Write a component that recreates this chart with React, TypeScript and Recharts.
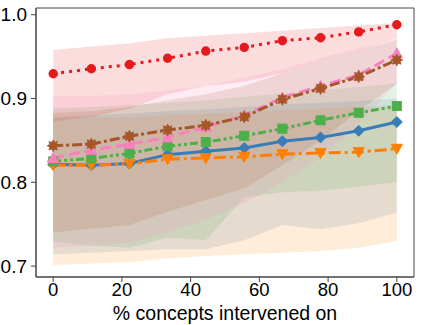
import React from 'react';
import { ComposedChart, Line, Area, XAxis, YAxis, ReferenceArea } from 'recharts';

const xs = [0, 11.1, 22.2, 33.3, 44.4, 55.6, 66.7, 77.8, 88.9, 100];
const xTicks = [0, 20, 40, 60, 80, 100];
const yTicks = [0.7, 0.8, 0.9, 1.0];
const xLabel = '% concepts intervened on';

const blueMean = [0.8215, 0.8205, 0.8225, 0.833, 0.837, 0.841, 0.849, 0.8536, 0.8615, 0.872];
const blueLow = [0.714, 0.716, 0.718, 0.72, 0.72, 0.731, 0.749, 0.744, 0.751, 0.764];
const blueHigh = [0.878, 0.88, 0.882, 0.885, 0.887, 0.89, 0.893, 0.895, 0.897, 0.9];

const orangeMean = [0.8205, 0.8205, 0.822, 0.8275, 0.829, 0.8305, 0.8335, 0.835, 0.836, 0.84];
const orangeLow = [0.701, 0.703, 0.705, 0.709, 0.712, 0.714, 0.716, 0.718, 0.722, 0.73];
const orangeHigh = [0.876, 0.877, 0.878, 0.88, 0.882, 0.884, 0.886, 0.888, 0.89, 0.892];

const greenMean = [0.825, 0.8285, 0.8345, 0.843, 0.848, 0.8555, 0.864, 0.874, 0.883, 0.891];
const greenLow = [0.729, 0.725, 0.722, 0.734, 0.731, 0.782, 0.788, 0.79, 0.795, 0.8];
const greenHigh = [0.8885, 0.89, 0.892, 0.895, 0.898, 0.902, 0.906, 0.91, 0.914, 0.918];

const redMean = [0.9295, 0.9355, 0.9405, 0.948, 0.9566, 0.961, 0.969, 0.9725, 0.9795, 0.988];
const redLow = [0.873, 0.878, 0.888, 0.905, 0.915, 0.92, 0.93, 0.945, 0.958, 0.972];
const redHigh = [0.958, 0.962, 0.966, 0.972, 0.975, 0.978, 0.981, 0.984, 0.987, 0.99];

const pinkMean = [0.829, 0.8385, 0.8456, 0.8536, 0.866, 0.88, 0.901, 0.915, 0.928, 0.954];
const pinkLow = [0.722, 0.724, 0.728, 0.74, 0.755, 0.775, 0.8, 0.83, 0.87, 0.918];
const pinkHigh = [0.9026, 0.903, 0.905, 0.91, 0.915, 0.925, 0.935, 0.948, 0.96, 0.972];

const brownMean = [0.8436, 0.8456, 0.855, 0.8623, 0.868, 0.878, 0.899, 0.912, 0.926, 0.946];
const brownLow = [0.74, 0.745, 0.749, 0.765, 0.779, 0.793, 0.82, 0.85, 0.885, 0.918];
const brownHigh = [0.8826, 0.885, 0.89, 0.898, 0.905, 0.915, 0.93, 0.945, 0.958, 0.97];

const C = {
  blue: '#377eb8',
  orange: '#ff7f00',
  green: '#4daf4a',
  red: '#e41a1c',
  pink: '#f781bf',
  brown: '#a65628',
};

const data = xs.map((x, i) => ({
  x,
  blue: blueMean[i], blueBand: [blueLow[i], blueHigh[i]],
  orange: orangeMean[i], orangeBand: [orangeLow[i], orangeHigh[i]],
  green: greenMean[i], greenBand: [greenLow[i], greenHigh[i]],
  red: redMean[i], redBand: [redLow[i], redHigh[i]],
  pink: pinkMean[i], pinkBand: [pinkLow[i], pinkHigh[i]],
  brown: brownMean[i], brownBand: [brownLow[i], brownHigh[i]],
}));

const W = 423;
const H = 325;
const Y_MIN = 0.687;
const Y_MAX = 1.008;
const FONT = '"Liberation Sans", Arial, sans-serif';

const diamond = (p: any) => {
  const { cx, cy, key } = p;
  const s = 5.5;
  return <polygon key={key} points={`${cx},${cy - s} ${cx + s},${cy} ${cx},${cy + s} ${cx - s},${cy}`} fill={C.blue} stroke={C.blue} strokeWidth={1} />;
};
const triDown = (p: any) => {
  const { cx, cy, key } = p;
  return <polygon key={key} points={`${cx - 5.5},${cy - 4.5} ${cx + 5.5},${cy - 4.5} ${cx},${cy + 5.5}`} fill={C.orange} stroke={C.orange} strokeWidth={1} />;
};
const square = (p: any) => {
  const { cx, cy, key } = p;
  return <rect key={key} x={cx - 4.5} y={cy - 4.5} width={9} height={9} fill={C.green} stroke={C.green} strokeWidth={1} />;
};
const circle = (p: any) => {
  const { cx, cy, key } = p;
  return <circle key={key} cx={cx} cy={cy} r={4.7} fill={C.red} />;
};
const triUp = (p: any) => {
  const { cx, cy, key } = p;
  return <polygon key={key} points={`${cx - 5.5},${cy + 4.5} ${cx + 5.5},${cy + 4.5} ${cx},${cy - 5.5}`} fill={C.pink} stroke={C.pink} strokeWidth={1} />;
};
const star = (p: any) => {
  const { cx, cy, key } = p;
  const pts: string[] = [];
  for (let k = 0; k < 16; k++) {
    const a = (Math.PI / 8) * k;
    const r = k % 2 === 0 ? 6 : 3.6;
    pts.push(`${cx + r * Math.cos(a)},${cy + r * Math.sin(a)}`);
  }
  return <polygon key={key} points={pts.join(' ')} fill={C.brown} stroke={C.brown} strokeWidth={0.8} />;
};

const bandProps = { type: 'linear' as const, stroke: 'none', fillOpacity: 0.15, isAnimationActive: false, dot: false, activeDot: false };
const lineProps = { type: 'linear' as const, strokeWidth: 3, isAnimationActive: false, activeDot: false };

export default function App() {
  return (
    <div style={{ position: 'absolute', left: 0, top: 0, width: W, height: H, background: '#fff' }}>
      <ComposedChart width={W} height={H} data={data} margin={{ top: 8, right: 9, bottom: 0, left: 0 }}>
        <XAxis
          dataKey="x"
          type="number"
          domain={[-5, 105]}
          ticks={xTicks}
          allowDataOverflow
          height={48}
          tickSize={5}
          tickMargin={1}
          stroke="#444"
          tick={{ fill: '#000', fontSize: 18.5, fontFamily: FONT }}
          label={{ value: xLabel, position: 'insideBottom', offset: 5, fill: '#000', fontSize: 19.5, fontFamily: FONT }}
        />
        <YAxis
          type="number"
          domain={[Y_MIN, Y_MAX]}
          ticks={yTicks}
          allowDataOverflow
          width={36}
          tickSize={5}
          tickMargin={4}
          stroke="#444"
          tickFormatter={(v: number) => v.toFixed(1)}
          tick={{ fill: '#000', fontSize: 19, fontFamily: FONT }}
        />
        <Area dataKey="blueBand" fill={C.blue} {...bandProps} />
        <Area dataKey="orangeBand" fill={C.orange} {...bandProps} />
        <Area dataKey="greenBand" fill={C.green} {...bandProps} />
        <Area dataKey="redBand" fill={C.red} {...bandProps} />
        <Area dataKey="pinkBand" fill={C.pink} {...bandProps} />
        <Area dataKey="brownBand" fill={C.brown} {...bandProps} />
        <Line dataKey="blue" stroke={C.blue} dot={diamond} {...lineProps} />
        <Line dataKey="orange" stroke={C.orange} strokeDasharray="12 4 3 4" dot={triDown} {...lineProps} />
        <Line dataKey="green" stroke={C.green} strokeDasharray="8 3 3 3 3 3" dot={square} {...lineProps} />
        <Line dataKey="red" stroke={C.red} strokeDasharray="3 5" dot={circle} {...lineProps} />
        <Line dataKey="pink" stroke={C.pink} strokeDasharray="11 5" dot={triUp} {...lineProps} />
        <Line dataKey="brown" stroke={C.brown} strokeDasharray="10 3 3 3" dot={star} {...lineProps} />
        <ReferenceArea x1={-5} x2={105} y1={Y_MIN} y2={Y_MAX} fill="none" stroke="#444" strokeWidth={1} ifOverflow="visible" />
      </ComposedChart>
    </div>
  );
}
